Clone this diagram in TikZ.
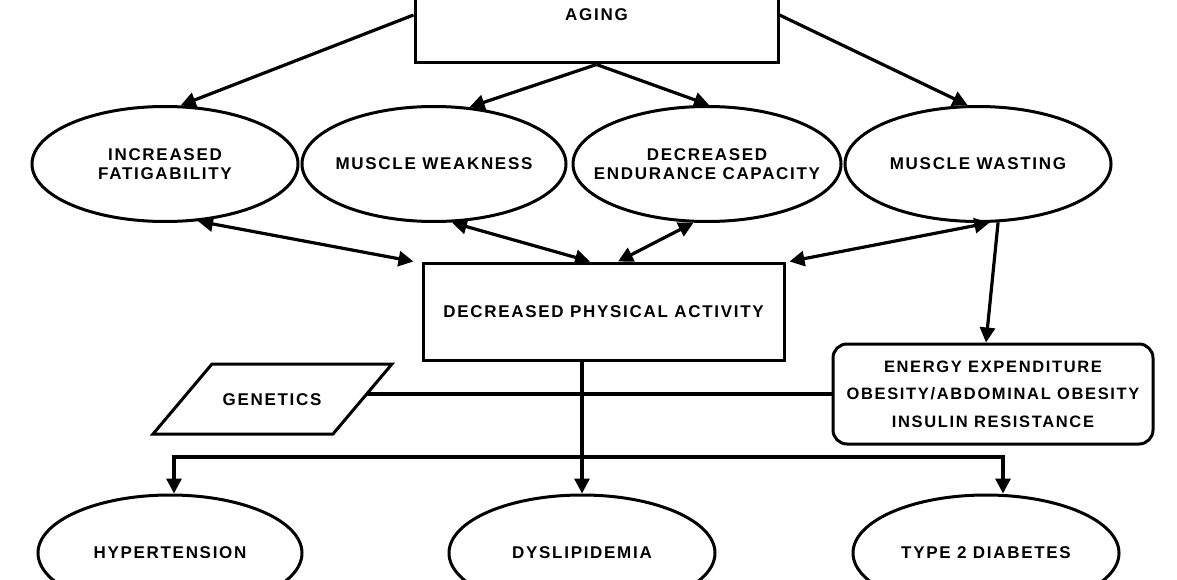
\documentclass[tikz,border=0pt]{standalone}
\usepackage{fontspec}
\setmainfont{Liberation Sans}
\newfontfamily\labfont{Liberation Sans}[LetterSpace=10]
\usetikzlibrary{shapes.geometric,arrows.meta,calc}
\begin{document}
\begin{tikzpicture}[x=1pt,y=-1pt,
  lab/.style={font=\labfont\bfseries\fontsize{17}{19}\selectfont, align=center},
  ell/.style={draw, ellipse, line width=3pt, inner sep=0pt, minimum height=115pt},
  box/.style={draw, rectangle, line width=3pt},
  tip/.tip={Triangle[length=15pt,width=15pt]},
  arr/.style={line width=3.2pt, -tip},
  biarr/.style={line width=3.2pt, tip-tip},
  con/.style={line width=3.2pt}]
\useasboundingbox (0,0) rectangle (1177,580);
\clip (0,0) rectangle (1177,580);
\fill[white] (0,0) rectangle (1177,580);

% top box
\node[box, minimum width=363pt, minimum height=96pt, lab] (aging) at (596.5,15) {AGING};

% first row ellipses
\node[ell, minimum width=266pt, label={[lab]center:INCREASED\\FATIGABILITY}] (fat) at (165,164) {};
\node[ell, minimum width=264pt, label={[lab]center:MUSCLE WEAKNESS}] (weak) at (434,164) {};
\node[ell, minimum width=268pt, label={[lab]center:DECREASED\\ENDURANCE CAPACITY}] (endu) at (707,164) {};
\node[ell, minimum width=266pt, label={[lab]center:MUSCLE WASTING}] (wast) at (978,164) {};

% middle
\node[box, minimum width=361pt, minimum height=97pt, lab] (pa) at (603.5,311.5) {DECREASED PHYSICAL ACTIVITY};
\node[box, rounded corners=14pt, minimum width=320pt, minimum height=100pt, lab,
      font=\labfont\bfseries\fontsize{16.5}{27.5}\selectfont] (energy) at (993,394)
      {ENERGY EXPENDITURE\\OBESITY/ABDOMINAL OBESITY\\INSULIN RESISTANCE};

% genetics parallelogram
\draw[line width=3pt] (212,364) -- (392,364) -- (333,434) -- (153,434) -- cycle;
\node[lab] (gen) at (272,400) {GENETICS};
\coordinate (genR) at (366.7,394);

% bottom ellipses
\node[ell, minimum width=264pt, minimum height=116pt, label={[lab]center:HYPERTENSION}] (hyp) at (170,553) {};
\node[ell, minimum width=266pt, minimum height=116pt, label={[lab]center:DYSLIPIDEMIA}] (dys) at (582,553) {};
\node[ell, minimum width=266pt, minimum height=116pt, label={[lab]center:TYPE 2 DIABETES}] (t2d) at (986,553) {};

% arrows from aging
\draw[arr] (aging.west) -- (fat.75);
\draw[arr] (aging.south) -- (weak.58);
\draw[arr] (aging.south) -- (endu.88);
\draw[arr] (aging.east) -- (wast.100);

% bidirectional
\draw[biarr] (fat.-60) -- ([xshift=-8pt]pa.north west);
\draw[biarr] (weak.-73) -- ([xshift=-13.5pt]pa.north);
\draw[biarr] (endu.-103) -- ([xshift=14.5pt]pa.north);
\draw[biarr] (wast.-79) -- ([xshift=4pt]pa.north east);
\draw[arr] (wast.-71) -- ([xshift=-7pt]energy.north);

% genetics line
\draw[con] (genR) -- (energy.west);

% down to outcomes
\draw[arr] (pa.south -| dys.north) -- (dys.north);
\coordinate (bus) at (582,457);
\draw[arr] (bus) -| ([xshift=4pt]hyp.north);
\draw[arr] (bus) -| ([xshift=17pt]t2d.north);
\end{tikzpicture}
\end{document}
